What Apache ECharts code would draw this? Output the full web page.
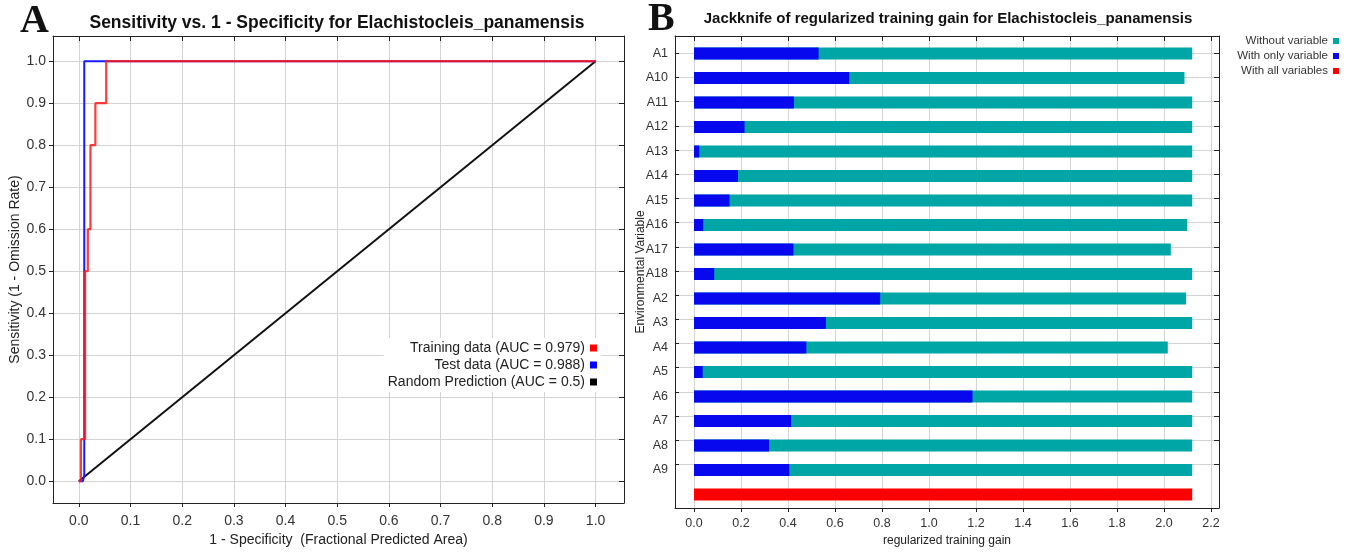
<!DOCTYPE html>
<html>
<head>
<meta charset="utf-8">
<script src="https://cdn.jsdelivr.net/npm/echarts@6/dist/echarts.min.js"></script>
<style>
  html, body { margin: 0; padding: 0; background: #fff; }
  #chart { width: 1347px; height: 552px; }
</style>
</head>
<body>
<div id="chart"></div>
<script>
// panel A - ROC curve
const trainFpr = [0, 0.004, 0.004, 0.0122, 0.0122, 0.0174, 0.0174, 0.0225, 0.0225, 0.032, 0.032, 0.053, 0.053, 1.0];
const trainTpr = [0, 0, 0.1, 0.1, 0.5, 0.5, 0.6, 0.6, 0.8, 0.8, 0.9, 0.9, 1.0, 1.0];
const testFpr = [0, 0.008, 0.0105, 0.0105, 1.0];
const testTpr = [0, 0, 0.015, 1.0, 1.0];
const randomFpr = [0, 1];
const randomTpr = [0, 1];
const rocTicks = [0, 0.1, 0.2, 0.3, 0.4, 0.5, 0.6, 0.7, 0.8, 0.9, 1.0];

// panel B - jackknife
const variables = ['A1', 'A10', 'A11', 'A12', 'A13', 'A14', 'A15', 'A16', 'A17', 'A18',
  'A2', 'A3', 'A4', 'A5', 'A6', 'A7', 'A8', 'A9'];
const withoutGain = [2.12, 2.087, 2.12, 2.12, 2.12, 2.12, 2.12, 2.099, 2.029, 2.12,
  2.094, 2.12, 2.016, 2.12, 2.12, 2.12, 2.12, 2.12];
const onlyGain = [0.53, 0.66, 0.425, 0.215, 0.022, 0.187, 0.151, 0.039, 0.423, 0.086,
  0.792, 0.561, 0.478, 0.037, 1.185, 0.413, 0.319, 0.405];
const allGain = 2.12;
const gainTicks = [0, 0.2, 0.4, 0.6, 0.8, 1.0, 1.2, 1.4, 1.6, 1.8, 2.0, 2.2];

const font = '"Liberation Sans", Arial, sans-serif';
const gridColor = '#d3d3d3';

// rows for the bars: each variable + one empty row for "all variables"
const rows = variables.concat(['']);
const rowTicks = variables.map((v, i) => i);
const zip = (xs, ys) => xs.map((x, i) => [x, ys[i]]);

const chart = echarts.init(document.getElementById('chart'));

const frameAxis = (extra) => Object.assign({
  axisLine: { show: true, onZero: false, lineStyle: { color: '#222', width: 1 } },
  axisLabel: { show: false },
  splitLine: { show: false }
}, extra);

chart.setOption({
  animation: false,
  backgroundColor: '#fff',
  textStyle: { fontFamily: font },
  graphic: [
    { type: 'text', x: 20, y: 22, style: { text: 'A', font: 'bold 40px "Liberation Serif", serif', fill: '#111', verticalAlign: 'middle' } },
    { type: 'text', x: 648, y: 20, style: { text: 'B', font: 'bold 40px "Liberation Serif", serif', fill: '#111', verticalAlign: 'middle' } },
    { type: 'text', x: 337, y: 23, style: { text: 'Sensitivity vs. 1 - Specificity for Elachistocleis_panamensis', font: 'bold 17.5px ' + font, fill: '#111', align: 'center', verticalAlign: 'middle' } },
    { type: 'text', x: 948, y: 19, style: { text: 'Jackknife of regularized training gain for Elachistocleis_panamensis', font: 'bold 15px ' + font, fill: '#111', align: 'center', verticalAlign: 'middle' } }
  ],
  legend: [
    {
      orient: 'vertical', right: 746, top: 338, align: 'right',
      itemWidth: 7, itemHeight: 7, itemGap: 3, icon: 'rect',
      backgroundColor: '#fff', padding: [3, 4],
      textStyle: { fontSize: 14, color: '#222', fontFamily: font },
      data: ['Training data (AUC = 0.979)', 'Test data (AUC = 0.988)', 'Random Prediction (AUC = 0.5)']
    },
    {
      orient: 'vertical', right: 6, top: 33, align: 'right',
      itemWidth: 6, itemHeight: 6, itemGap: 3, icon: 'rect',
      padding: [2, 2],
      textStyle: { fontSize: 11.5, color: '#333', fontFamily: font },
      data: ['Without variable', 'With only variable', 'With all variables']
    }
  ],
  grid: [
    { left: 675, right: 128, top: 41.25, bottom: 45.25, containLabel: false },
    { left: 675, right: 128, top: 36, bottom: 38, containLabel: false },
    { left: 53, right: 723, top: 36, bottom: 46, containLabel: false }
  ],
  xAxis: [
    { gridIndex: 0, type: 'value', min: -0.081, max: 2.234, show: false },
    frameAxis({
      gridIndex: 1, type: 'value', min: -0.081, max: 2.234, position: 'bottom',
      axisTick: { show: true, length: 4, customValues: gainTicks, lineStyle: { color: '#222' } },
      axisLabel: { show: true, customValues: gainTicks, formatter: v => v.toFixed(1), fontSize: 12.5, color: '#333', margin: 9 },
      splitLine: { show: true, lineStyle: { color: gridColor, width: 1 } },
      name: 'regularized training gain', nameLocation: 'middle', nameGap: 27,
      nameTextStyle: { fontSize: 12, color: '#222' }
    }),
    frameAxis({
      gridIndex: 1, type: 'value', min: -0.081, max: 2.234, position: 'top',
      axisTick: { show: true, inside: true, length: 5, customValues: gainTicks, lineStyle: { color: '#222' } }
    }),
    frameAxis({
      gridIndex: 2, type: 'value', min: -0.05, max: 1.055, position: 'bottom',
      axisTick: { show: true, length: 4, customValues: rocTicks, lineStyle: { color: '#222' } },
      axisLabel: { show: true, customValues: rocTicks, formatter: v => v.toFixed(1), fontSize: 14, color: '#333', margin: 11 },
      splitLine: { show: true, lineStyle: { color: gridColor, width: 1 } },
      name: '1 - Specificity  (Fractional Predicted Area)', nameLocation: 'middle', nameGap: 30,
      nameTextStyle: { fontSize: 14, color: '#222' }
    }),
    frameAxis({
      gridIndex: 2, type: 'value', min: -0.05, max: 1.055, position: 'top',
      axisTick: { show: true, inside: true, length: 5, customValues: rocTicks, lineStyle: { color: '#222' } }
    })
  ],
  yAxis: [
    {
      gridIndex: 0, type: 'category', data: rows, inverse: true,
      axisLine: { show: false }, axisTick: { show: false }, splitLine: { show: false },
      axisLabel: { fontSize: 12.5, color: '#333', margin: 7 }
    },
    frameAxis({
      gridIndex: 1, type: 'value', inverse: true, min: -0.714, max: 18.8, position: 'left',
      axisTick: { show: true, inside: true, length: 4, customValues: rowTicks, lineStyle: { color: '#222' } },
      splitLine: { show: true, lineStyle: { color: gridColor, width: 1 } },
      name: 'Environmental Variable', nameLocation: 'middle', nameGap: 28,
      nameTextStyle: { fontSize: 12, color: '#222' }
    }),
    frameAxis({
      gridIndex: 1, type: 'value', inverse: true, min: -0.714, max: 18.8, position: 'right',
      axisTick: { show: true, inside: true, length: 5, customValues: rowTicks, lineStyle: { color: '#222' } }
    }),
    frameAxis({
      gridIndex: 2, type: 'value', min: -0.052, max: 1.06, position: 'left',
      axisTick: { show: true, length: 4, customValues: rocTicks, lineStyle: { color: '#222' } },
      axisLabel: { show: true, customValues: rocTicks, formatter: v => v.toFixed(1), fontSize: 14, color: '#333', margin: 7 },
      splitLine: { show: true, lineStyle: { color: gridColor, width: 1 } },
      name: 'Sensitivity (1 - Omission Rate)', nameLocation: 'middle', nameGap: 28,
      nameTextStyle: { fontSize: 14, color: '#222' }
    }),
    frameAxis({
      gridIndex: 2, type: 'value', min: -0.052, max: 1.06, position: 'right',
      axisTick: { show: true, inside: true, length: 5, customValues: rocTicks, lineStyle: { color: '#222' } }
    })
  ],
  series: [
    {
      name: 'Without variable', type: 'bar', xAxisIndex: 0, yAxisIndex: 0,
      barWidth: 12, barGap: '-100%', itemStyle: { color: '#00a6a6' },
      data: withoutGain.concat([null])
    },
    {
      name: 'With only variable', type: 'bar', xAxisIndex: 0, yAxisIndex: 0,
      barWidth: 12, barGap: '-100%', itemStyle: { color: '#0808ee' },
      data: onlyGain.concat([null])
    },
    {
      name: 'With all variables', type: 'bar', xAxisIndex: 0, yAxisIndex: 0,
      barWidth: 12, barGap: '-100%', itemStyle: { color: '#ff0000' },
      data: variables.map(() => null).concat([allGain])
    },
    {
      name: 'Random Prediction (AUC = 0.5)', type: 'line', xAxisIndex: 3, yAxisIndex: 3,
      showSymbol: false, itemStyle: { color: '#000' }, lineStyle: { color: '#111', width: 2 },
      data: zip(randomFpr, randomTpr)
    },
    {
      name: 'Test data (AUC = 0.988)', type: 'line', xAxisIndex: 3, yAxisIndex: 3,
      showSymbol: false, itemStyle: { color: '#0000ff' }, lineStyle: { color: '#1a1aff', width: 2 },
      data: zip(testFpr, testTpr)
    },
    {
      name: 'Training data (AUC = 0.979)', type: 'line', xAxisIndex: 3, yAxisIndex: 3,
      showSymbol: false, itemStyle: { color: '#ff0000' }, lineStyle: { color: '#ff1a1a', width: 2.2, opacity: 0.85 },
      data: zip(trainFpr, trainTpr)
    }
  ]
});
</script>
</body>
</html>
